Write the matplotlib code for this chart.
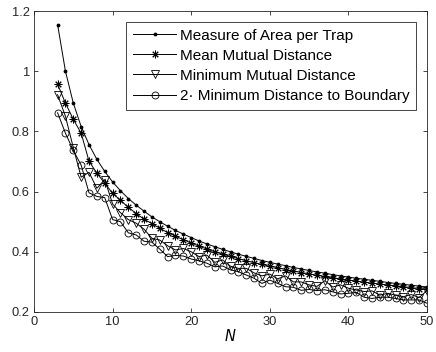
import matplotlib
matplotlib.use("Agg")
import matplotlib.pyplot as plt

plt.rcParams['font.family'] = ['Liberation Sans', 'DejaVu Sans']

N = list(range(3, 51))

area_per_trap = [1.155, 1.000, 0.894, 0.816, 0.756, 0.707, 0.667, 0.632, 0.603, 0.577,
                 0.555, 0.535, 0.516, 0.500, 0.485, 0.471, 0.459, 0.447, 0.436, 0.426,
                 0.417, 0.408, 0.400, 0.392, 0.385, 0.378, 0.371, 0.365, 0.359, 0.354,
                 0.348, 0.343, 0.338, 0.333, 0.329, 0.324, 0.320, 0.316, 0.312, 0.309,
                 0.305, 0.302, 0.298, 0.295, 0.292, 0.289, 0.286, 0.283]

mean_mutual = [0.957, 0.894, 0.840, 0.794, 0.701, 0.661, 0.628, 0.594, 0.571, 0.548,
               0.527, 0.508, 0.494, 0.478, 0.464, 0.452, 0.440, 0.429, 0.419, 0.409,
               0.400, 0.392, 0.385, 0.377, 0.370, 0.364, 0.358, 0.352, 0.347, 0.341,
               0.336, 0.331, 0.327, 0.322, 0.318, 0.314, 0.310, 0.306, 0.303, 0.299,
               0.296, 0.293, 0.290, 0.287, 0.284, 0.281, 0.278, 0.276]

min_mutual = [0.922, 0.850, 0.746, 0.648, 0.664, 0.611, 0.640, 0.559, 0.530, 0.507,
              0.495, 0.475, 0.445, 0.439, 0.420, 0.406, 0.411, 0.400, 0.384, 0.389,
              0.365, 0.373, 0.352, 0.345, 0.345, 0.330, 0.320, 0.326, 0.310, 0.320,
              0.300, 0.300, 0.290, 0.285, 0.304, 0.283, 0.290, 0.279, 0.273, 0.268,
              0.270, 0.256, 0.262, 0.256, 0.251, 0.258, 0.248, 0.271]

min_boundary = [0.862, 0.794, 0.737, 0.688, 0.596, 0.584, 0.580, 0.507, 0.500, 0.463,
                0.456, 0.435, 0.432, 0.409, 0.384, 0.388, 0.386, 0.376, 0.370, 0.362,
                0.350, 0.353, 0.340, 0.334, 0.323, 0.312, 0.295, 0.306, 0.295, 0.284,
                0.282, 0.272, 0.275, 0.271, 0.274, 0.267, 0.260, 0.262, 0.265, 0.249,
                0.245, 0.249, 0.249, 0.245, 0.240, 0.240, 0.240, 0.229]

labels = ['Measure of Area per Trap', 'Mean Mutual Distance',
          'Minimum Mutual Distance', '2\u00b7 Minimum Distance to Boundary']

xticks = [0, 10, 20, 30, 40, 50]
yticks = [0.2, 0.4, 0.6, 0.8, 1.0, 1.2]
yticklabels = ['0.2', '0.4', '0.6', '0.8', '1', '1.2']

fig = plt.figure(figsize=(4.36, 3.52), dpi=100)
ax = fig.add_axes([34/436, 40/352, (427-34)/436, (312-11)/352])

lw = 0.7
ax.plot(N, area_per_trap, color='black', lw=lw, marker='.', ms=3.5, label=labels[0])
ax.plot(N, mean_mutual, color='black', lw=lw, marker=(8, 2, 0), ms=5.5, mew=0.7, label=labels[1])
ax.plot(N, min_mutual, color='black', lw=lw, marker='v', ms=5.5, mfc='none', mew=0.6, label=labels[2])
ax.plot(N, min_boundary, color='black', lw=lw, marker='o', ms=5, mfc='none', mew=0.6, label=labels[3])

ax.set_xlim(0, 50)
ax.set_ylim(0.2, 1.2)
ax.set_xticks(xticks)
ax.set_xticklabels([str(t) for t in xticks])
ax.set_yticks(yticks)
ax.set_yticklabels(yticklabels)
ax.tick_params(direction='in', top=True, right=True, length=3, width=0.6,
               labelsize=9.3, colors='#262626', pad=3)
for s in ax.spines.values():
    s.set_linewidth(0.6)
    s.set_color('#262626')
ax.set_xlabel('$N$', fontsize=10.5, labelpad=0)

leg = ax.legend(loc='upper right', fontsize=11, frameon=True, fancybox=False,
                edgecolor='#262626', framealpha=1, handlelength=2.8,
                handletextpad=0.25, labelspacing=0.4, borderpad=0.45,
                borderaxespad=0.7)
leg.get_frame().set_linewidth(0.6)

fig.savefig('out.png', dpi=100)
